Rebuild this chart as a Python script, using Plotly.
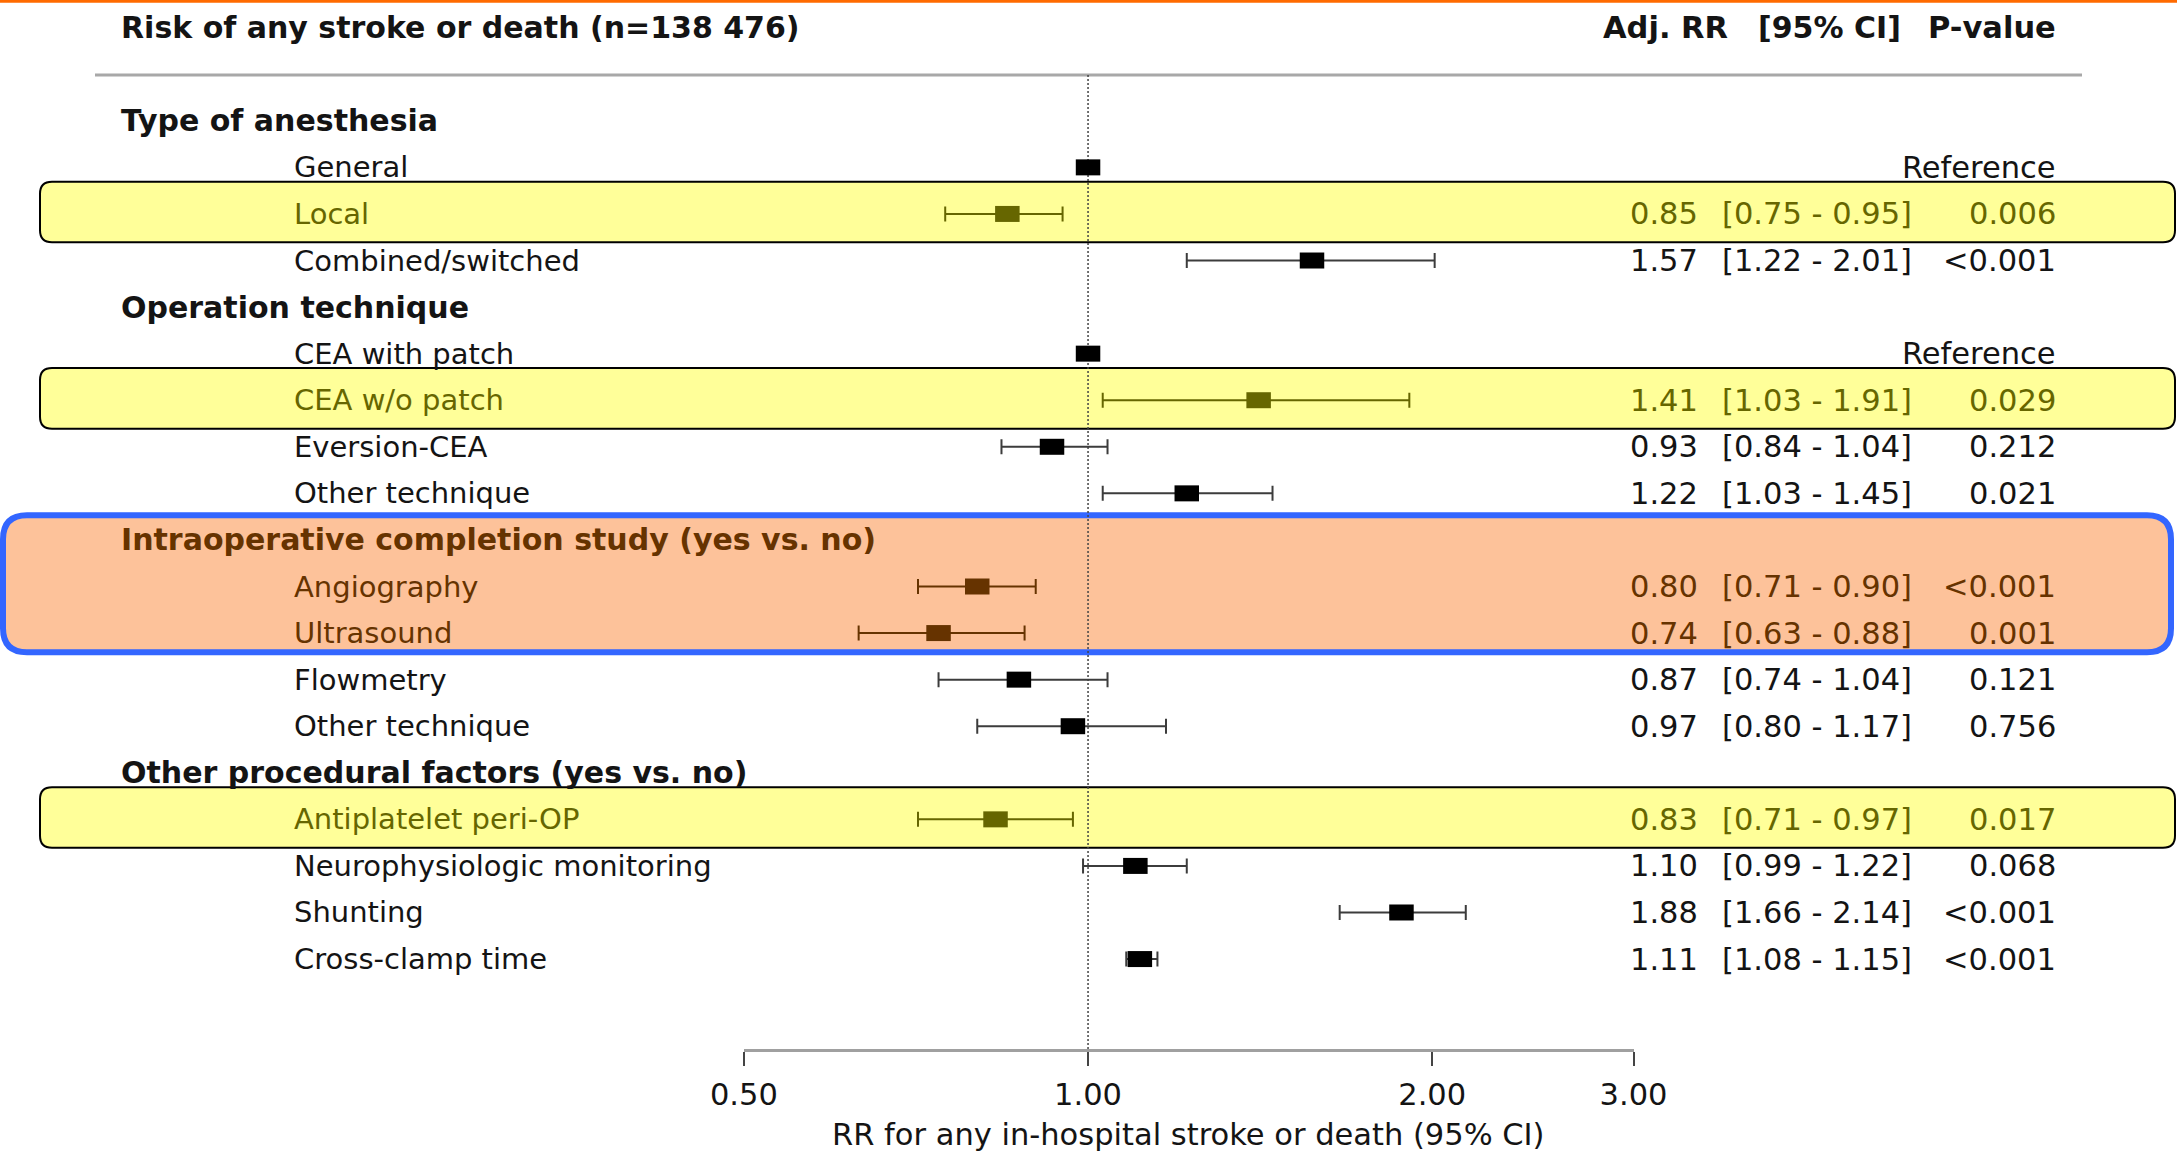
import math
import plotly.graph_objects as go

W, H = 2177, 1152
ROW_PX = 46.57       # pixel height of one table row
ROW0_PX = 120.8      # pixel centre of the first row
FONT = "DejaVu Sans"

# ---------------- data ----------------
row_labels = [
    "Type of anesthesia", "General", "Local", "Combined/switched",
    "Operation technique", "CEA with patch", "CEA w/o patch", "Eversion-CEA", "Other technique",
    "Intraoperative completion study (yes vs. no)", "Angiography", "Ultrasound", "Flowmetry", "Other technique",
    "Other procedural factors (yes vs. no)", "Antiplatelet peri-OP", "Neurophysiologic monitoring",
    "Shunting", "Cross-clamp time",
]
row_is_heading = [True, False, False, False,
                  True, False, False, False, False,
                  True, False, False, False, False,
                  True, False, False, False, False]
rr = [None, 1.00, 0.85, 1.57,
      None, 1.00, 1.41, 0.93, 1.22,
      None, 0.80, 0.74, 0.87, 0.97,
      None, 0.83, 1.10, 1.88, 1.11]
ci_low = [None, None, 0.75, 1.22,
          None, None, 1.03, 0.84, 1.03,
          None, 0.71, 0.63, 0.74, 0.80,
          None, 0.71, 0.99, 1.66, 1.08]
ci_high = [None, None, 0.95, 2.01,
           None, None, 1.91, 1.04, 1.45,
           None, 0.90, 0.88, 1.04, 1.17,
           None, 0.97, 1.22, 2.14, 1.15]
p_values = ["", "Reference", "0.006", "<0.001",
            "", "Reference", "0.029", "0.212", "0.021",
            "", "<0.001", "0.001", "0.121", "0.756",
            "", "0.017", "0.068", "<0.001", "<0.001"]
row_highlight = ["", "", "yellow", "",
                 "", "", "yellow", "", "",
                 "orange", "orange", "orange", "", "",
                 "", "yellow", "", "", ""]

tick_values = [0.5, 1.0, 2.0, 3.0]
tick_labels = ["0.50", "1.00", "2.00", "3.00"]

title_text = "Risk of any stroke or death (n=138 476)"
header_rr = "Adj. RR"
header_ci = "[95% CI]"
header_p = "P-value"
axis_title = "RR for any in-hospital stroke or death (95% CI)"

# ---------------- styling ----------------
STYLE = {
    "":       dict(text="#141414", marker="#000000", ci="#3c3c3c"),
    "yellow": dict(text="#666600", marker="#666600", ci="#666600"),
    "orange": dict(text="#663300", marker="#663300", ci="#663300"),
}
BOLD_SIZE = 30
ITEM_SIZE = 29
NUM_SIZE = 30.5


def row_of_pixel(p):
    return (p - ROW0_PX) / ROW_PX


def px(xp):
    return xp / W


y_top = row_of_pixel(0)
y_bottom = row_of_pixel(H)
AXIS_ROW = row_of_pixel(1049.6)
TOPLINE_ROW = row_of_pixel(75)

fig = go.Figure()

# reference line at RR = 1
fig.add_trace(go.Scatter(
    x=[1.0, 1.0], y=[TOPLINE_ROW, AXIS_ROW], mode="lines",
    line=dict(color="#444444", width=1.5, dash="2px,2px"),
    hoverinfo="skip", showlegend=False,
))

# estimates with CI, grouped by colour
for key, st in STYLE.items():
    idx = [i for i in range(len(rr)) if rr[i] is not None and ci_low[i] is not None
           and row_highlight[i] == key]
    if idx:
        fig.add_trace(go.Scatter(
            x=[rr[i] for i in idx], y=idx, mode="markers",
            marker=dict(symbol="line-ew", size=17.5, color=st["marker"],
                        line=dict(color=st["marker"], width=16)),
            error_x=dict(type="data", symmetric=False,
                         array=[ci_high[i] - rr[i] for i in idx],
                         arrayminus=[rr[i] - ci_low[i] for i in idx],
                         color=st["ci"], thickness=2, width=7.5),
            hoverinfo="skip", showlegend=False,
        ))

# reference categories (no CI)
ref_idx = [i for i in range(len(rr)) if rr[i] is not None and ci_low[i] is None]
fig.add_trace(go.Scatter(
    x=[rr[i] for i in ref_idx], y=ref_idx, mode="markers",
    marker=dict(symbol="line-ew", size=17.5, color="#000000",
                line=dict(color="#000000", width=16)),
    hoverinfo="skip", showlegend=False,
))

# ---------------- text ----------------
ann = []


def add_text(text, x_px, y, anchor="left", size=28, color="#141414", bold=False):
    ann.append(dict(
        text=f"<b>{text}</b>" if bold else text,
        x=px(x_px), xref="paper", y=y, yref="y",
        xanchor=anchor, yanchor="middle", showarrow=False,
        font=dict(family=FONT, size=size, color=color),
    ))


add_text(title_text, 119.4, -2, size=BOLD_SIZE, bold=True)
add_text(header_rr, 1601, -2, size=BOLD_SIZE + 0.5, bold=True)
add_text(header_ci, 1756, -2, size=BOLD_SIZE, bold=True)
add_text(header_p, 2058, -2, anchor="right", size=BOLD_SIZE + 0.5, bold=True)

for i, lab in enumerate(row_labels):
    col = STYLE[row_highlight[i]]["text"]
    if row_is_heading[i]:
        add_text(lab, 119.4, i, size=BOLD_SIZE, color=col, bold=True)
    else:
        add_text(lab, 291.6, i, size=ITEM_SIZE, color=col)
    if rr[i] is not None and ci_low[i] is not None:
        add_text(f"{rr[i]:.2f}", 1628, i, size=NUM_SIZE, color=col)
        add_text(f"[{ci_low[i]:.2f} - {ci_high[i]:.2f}]", 1720, i, size=NUM_SIZE, color=col)
    if p_values[i]:
        add_text(p_values[i], 2058, i, anchor="right", size=NUM_SIZE, color=col)

ann.append(dict(
    text=axis_title, x=px(1188.7), xref="paper", y=row_of_pixel(1134), yref="y",
    xanchor="center", yanchor="middle", showarrow=False,
    font=dict(family=FONT, size=30.5, color="#141414"),
))

# ---------------- highlight boxes ----------------
def rounded_path(x0p, x1p, y0, y1, r_px):
    x0, x1 = px(x0p), px(x1p)
    rx, ry = r_px / W, r_px / ROW_PX
    return (f"M {x0+rx},{y0} L {x1-rx},{y0} Q {x1},{y0} {x1},{y0+ry} "
            f"L {x1},{y1-ry} Q {x1},{y1} {x1-rx},{y1} L {x0+rx},{y1} "
            f"Q {x0},{y1} {x0},{y1-ry} L {x0},{y0+ry} Q {x0},{y0} {x0+rx},{y0} Z")


shapes = []
# thin orange frame line at very top
shapes.append(dict(type="line", xref="paper", yref="paper", x0=0, x1=1,
                   y0=1 - 1.2 / H, y1=1 - 1.2 / H, line=dict(color="#FF6A00", width=3),
                   layer="below"))
# header separator
shapes.append(dict(type="line", xref="paper", yref="y", x0=px(95), x1=px(2082),
                   y0=TOPLINE_ROW, y1=TOPLINE_ROW, line=dict(color="#a8a8a8", width=3),
                   layer="below"))

groups = []
for i, h in enumerate(row_highlight):
    if h and (not groups or groups[-1][0] != h or groups[-1][2] != i - 1):
        groups.append([h, i, i])
    elif h:
        groups[-1][2] = i

for h, a, b in groups:
    if h == "yellow":
        shapes.append(dict(type="path", xref="paper", yref="y",
                           path=rounded_path(40, 2175, a - 0.69, b + 0.61, 12),
                           fillcolor="#FFFF99", line=dict(color="#000000", width=2),
                           layer="below"))
    else:
        shapes.append(dict(type="path", xref="paper", yref="y",
                           path=rounded_path(3, 2171, a - 0.53, b + 0.41, 24),
                           fillcolor="#FDC29A", line=dict(color="#3366FF", width=6),
                           layer="below"))

fig.update_layout(
    width=W, height=H, autosize=False,
    margin=dict(l=0, r=0, t=0, b=0, pad=0, autoexpand=False),
    paper_bgcolor="white", plot_bgcolor="white",
    showlegend=False,
    annotations=ann, shapes=shapes,
    xaxis=dict(
        type="log",
        domain=[743.9 / W, 1633.5 / W],
        range=[math.log10(0.5), math.log10(3.0)],
        anchor="free", position=1 - 1049.6 / H,
        showline=True, linecolor="#a0a0a0", linewidth=3,
        ticks="outside", ticklen=14, tickwidth=2, tickcolor="#444444",
        tickvals=tick_values, ticktext=tick_labels,
        tickfont=dict(family=FONT, size=30.5, color="#141414"),
        ticklabelstandoff=3, automargin=False,
        showgrid=False, zeroline=False, fixedrange=True,
    ),
    yaxis=dict(
        range=[y_bottom, y_top], domain=[0, 1], visible=False, automargin=False,
        showgrid=False, zeroline=False, fixedrange=True,
    ),
)

fig.write_html(
    "out.html",
    config={"displayModeBar": False},
    post_script="document.body.style.margin='0';document.body.style.overflow='hidden';",
)
